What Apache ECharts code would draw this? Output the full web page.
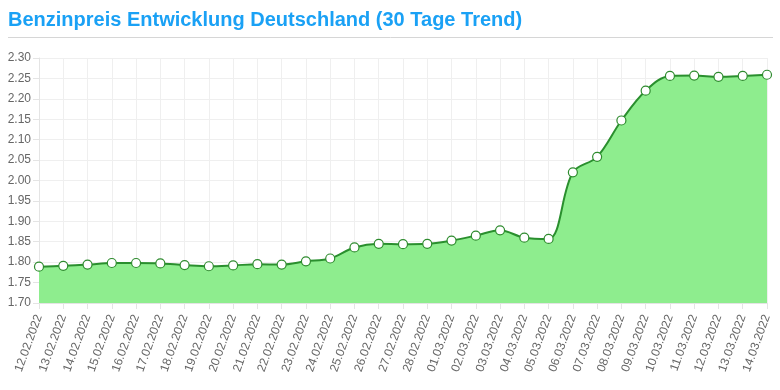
<!DOCTYPE html>
<html>
<head>
<meta charset="utf-8">
<script src="https://cdn.jsdelivr.net/npm/echarts@6/dist/echarts.min.js"></script>
<style>
html,body{margin:0;padding:0;background:#fff;}
#c{width:780px;height:390px;}
</style>
</head>
<body>
<div id="c"></div>
<script>
const titleText = 'Benzinpreis Entwicklung Deutschland (30 Tage Trend)';
const dates = ['12.02.2022','13.02.2022','14.02.2022','15.02.2022','16.02.2022','17.02.2022','18.02.2022','19.02.2022','20.02.2022','21.02.2022','22.02.2022','23.02.2022','24.02.2022','25.02.2022','26.02.2022','27.02.2022','28.02.2022','01.03.2022','02.03.2022','03.03.2022','04.03.2022','05.03.2022','06.03.2022','07.03.2022','08.03.2022','09.03.2022','10.03.2022','11.03.2022','12.03.2022','13.03.2022','14.03.2022'];
const prices = [1.789,1.791,1.794,1.798,1.798,1.797,1.793,1.790,1.792,1.795,1.794,1.802,1.809,1.836,1.845,1.844,1.845,1.853,1.865,1.878,1.860,1.857,2.020,2.058,2.147,2.220,2.256,2.257,2.254,2.256,2.259];
const yMin = 1.70, yMax = 2.30, yStep = 0.05;

const chart = echarts.init(document.getElementById('c'), null, {renderer:'canvas'});
const font = '"Liberation Sans", Arial, Helvetica, sans-serif';
chart.setOption({
  animation:false,
  textStyle:{fontFamily:font},
  title:{
    text:titleText, left:3, top:5,
    textStyle:{color:'#1aa1f5', fontSize:20, fontWeight:'bold', fontFamily:font}
  },
  graphic:[{type:'line', shape:{x1:8,y1:37.5,x2:773,y2:37.5}, style:{stroke:'#d6d6d6', lineWidth:1}}],
  grid:{left:39, right:13, top:58, bottom:87, containLabel:false},
  xAxis:{
    type:'category', data:dates, boundaryGap:false,
    axisLine:{show:true, lineStyle:{color:'#e4e4e4'}},
    axisTick:{show:true, length:6, inside:false, lineStyle:{color:'#e4e4e4'}},
    splitLine:{show:true, lineStyle:{color:'#efefef'}},
    axisLabel:{rotate:70, color:'#666', fontSize:12, fontFamily:font, margin:12, interval:0}
  },
  yAxis:{
    type:'value', min:yMin, max:yMax, interval:yStep,
    axisLine:{show:true, lineStyle:{color:'#e4e4e4'}},
    axisTick:{show:true, length:6, lineStyle:{color:'#e4e4e4'}},
    splitLine:{show:true, lineStyle:{color:'#efefef'}},
    axisLabel:{color:'#666', fontSize:12, fontFamily:font, margin:8, formatter:v=>v.toFixed(2)}
  },
  series:[{
    type:'line', data:prices, smooth:0.35,
    symbol:'circle', symbolSize:9, showAllSymbol:true,
    itemStyle:{color:'#ffffff', borderColor:'#2e8b2e', borderWidth:1.2},
    lineStyle:{color:'#2a8f2e', width:2},
    areaStyle:{color:'#8eed8e', opacity:1, origin:'start'}
  }]
});
</script>
</body>
</html>
